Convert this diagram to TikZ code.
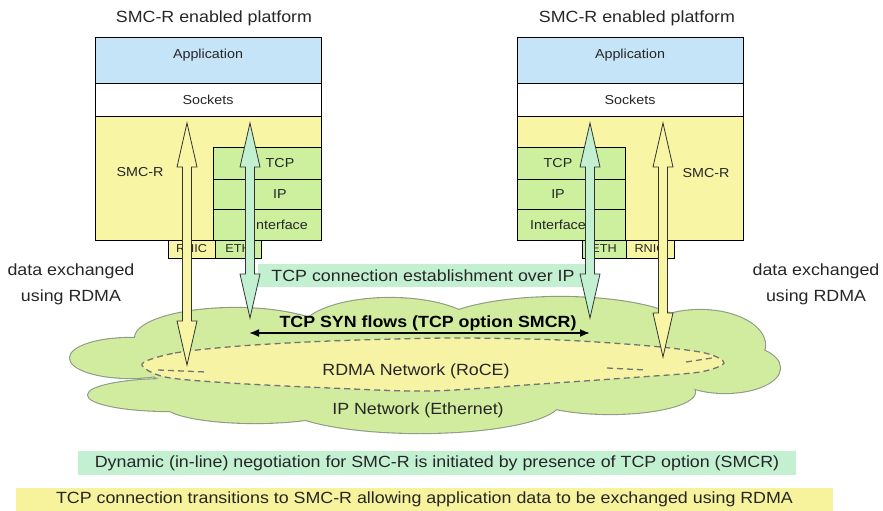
\documentclass[tikz,border=0pt]{standalone}
\usepackage{fontspec}
\setmainfont{Liberation Sans}[FakeStretch=1.1]
\usetikzlibrary{arrows.meta,calc}
\definecolor{appblue}{HTML}{C6E4F8}
\definecolor{smcyellow}{HTML}{F8F5A4}
\definecolor{tcpgreen}{HTML}{CCF09E}
\definecolor{mint}{HTML}{C4F0D2}
\definecolor{cloudgreen}{HTML}{D1EC9E}
\definecolor{cloudedge}{HTML}{8E9C86}
\definecolor{rdmayellow}{HTML}{F6F3A4}
\definecolor{noteyellow}{HTML}{F7F29C}
\definecolor{textgray}{HTML}{262626}
\newcommand{\fatarrow}[3]{%
  \draw[fatline,fill=#1] let \p1=(#2), \p2=(#3) in
    (\p1) -- (\x1+10pt,\y1-44pt) -- (\x1+4.5pt,\y1-44pt) -- (\x1+4.5pt,\y2+44pt)
    -- (\x1+10pt,\y2+44pt) -- (\p2) -- (\x1-10pt,\y2+44pt) -- (\x1-4.5pt,\y2+44pt)
    -- (\x1-4.5pt,\y1-44pt) -- (\x1-10pt,\y1-44pt) -- cycle;}

\begin{document}
\begin{tikzpicture}[x=1pt,y=-1pt,
  cell/.style={draw=black,line width=1pt,inner sep=0pt,outer sep=0pt,anchor=north west},
  txt/.style={font=\fontsize{13}{15}\selectfont,text=textgray,inner sep=0pt},
  big/.style={font=\fontsize{16.2}{26}\selectfont,text=textgray,inner sep=0pt},
  small/.style={font=\fontsize{11.5}{13}\selectfont,text=textgray,inner sep=0pt},
  fatline/.style={draw=black!80,line width=0.8pt},
  synline/.style={line width=1.8pt,{Latex[length=10pt,width=8pt]}-{Latex[length=10pt,width=8pt]}},
  rdmaedge/.style={draw=black!55,line width=1.3pt,dash pattern=on 6pt off 4pt}]
\useasboundingbox (0,0) rectangle (883,511);

\foreach \cx/\cy/\rx/\ry in {130/358/60/20,170/395/82/16,235/338/100/30,390/332/90/34,560/332/130/35,
    700/345/65/35,725/368/55/25,610/392/85/22,420/402/140/31,255/405/90/18,425/365/280/45}
  \draw[cloudedge,line width=2.2pt] (\cx,\cy) ellipse [x radius=\rx,y radius=\ry];
\foreach \cx/\cy/\rx/\ry in {130/358/60/20,170/395/82/16,235/338/100/30,390/332/90/34,560/332/130/35,
    700/345/65/35,725/368/55/25,610/392/85/22,420/402/140/31,255/405/90/18,425/365/280/45}
  \fill[cloudgreen] (\cx,\cy) ellipse [x radius=\rx,y radius=\ry];

\draw[rdmaedge,fill=rdmayellow] plot[smooth cycle] coordinates {(142,364) (175,353) (240,346) (330,341)
  (450,338) (560,340) (650,346) (705,353) (724,363) (700,372) (640,377) (540,384) (430,391)
  (330,388) (230,383) (165,377)};
\draw[rdmaedge] (158,370) -- (206,372);
\draw[rdmaedge] (607,368) -- (646,370);
\draw[rdmaedge] (686,362) -- (712,358);

\node[font=\bfseries\fontsize{16.2}{18}\selectfont,text=black,inner sep=0pt] (synflows) at (428,323) {TCP SYN flows (TCP option SMCR)};
\node[big] (rdmanet) at (416,371) {RDMA Network (RoCE)};
\node[big] (ipnet) at (418,410) {IP Network (Ethernet)};

\node[big] (titleL) at (214,18) {SMC-R enabled platform};
\node[cell,fill=appblue,minimum width=226,minimum height=45] (appL) at (95,38) {};
\node[cell,fill=white,minimum width=226,minimum height=33] (sockL) at (95,83) {};
\node[cell,fill=smcyellow,minimum width=226,minimum height=124] (smcL) at (95,116) {};
\node[cell,fill=tcpgreen,minimum width=108,minimum height=32] (tcpL) at (213,147) {};
\node[cell,fill=tcpgreen,minimum width=108,minimum height=30] (ipL) at (213,179) {};
\node[cell,fill=tcpgreen,minimum width=108,minimum height=31] (ifL) at (213,209) {};
\node[cell,fill=smcyellow,minimum width=47,minimum height=18] (rnicL) at (168,240) {};
\node[cell,fill=tcpgreen,minimum width=46,minimum height=18] (ethL) at (215,240) {};
\node[txt] at ([yshift=5.5]appL.center) {Application};
\node[txt] at (sockL.center) {Sockets};
\node[txt] at (140,172) {SMC-R};
\node[txt] at ([xshift=13]tcpL.center) {TCP};
\node[txt] at ([xshift=13]ipL.center) {IP};
\node[txt] at ([xshift=13]ifL.center) {Interface};
\node[small] at (rnicL.center) {RNIC};
\node[small] at (ethL.center) {ETH};

\node[big] (titleR) at (637,18) {SMC-R enabled platform};
\node[cell,fill=appblue,minimum width=226,minimum height=45] (appR) at (517,38) {};
\node[cell,fill=white,minimum width=226,minimum height=33] (sockR) at (517,83) {};
\node[cell,fill=smcyellow,minimum width=226,minimum height=124] (smcR) at (517,116) {};
\node[cell,fill=tcpgreen,minimum width=108,minimum height=32] (tcpR) at (517,147) {};
\node[cell,fill=tcpgreen,minimum width=108,minimum height=30] (ipR) at (517,179) {};
\node[cell,fill=tcpgreen,minimum width=108,minimum height=31] (ifR) at (517,209) {};
\node[cell,fill=tcpgreen,minimum width=44,minimum height=18] (ethR) at (582,240) {};
\node[cell,fill=smcyellow,minimum width=48,minimum height=18] (rnicR) at (626,240) {};
\node[txt] at ([yshift=5.5]appR.center) {Application};
\node[txt] at (sockR.center) {Sockets};
\node[txt] at (706,173) {SMC-R};
\node[txt] at ([xshift=-13]tcpR.center) {TCP};
\node[txt] at ([xshift=-13]ipR.center) {IP};
\node[txt] at ([xshift=-13]ifR.center) {Interface};
\node[small] at (ethR.center) {ETH};
\node[small] at (rnicR.center) {RNIC};

\node[big,align=center] (dataL) at (71,284) {data exchanged\\using RDMA};
\node[big,align=center] (dataR) at (816,284) {data exchanged\\using RDMA};
\node[big,fill=mint,minimum width=330,minimum height=23] (tcpconn) at (423,275.5) {TCP connection establishment over IP};

\coordinate (rdmaLtop) at (187,123);
\coordinate (rdmaLbot) at (187,365);
\coordinate (tcpLtop) at (250,123);
\coordinate (tcpLbot) at (250,318);
\coordinate (tcpRtop) at (590,123);
\coordinate (tcpRbot) at (590,318);
\coordinate (rdmaRtop) at (663,123);
\coordinate (rdmaRbot) at (663,357);
\fatarrow{smcyellow}{rdmaLtop}{rdmaLbot}
\fatarrow{mint}{tcpLtop}{tcpLbot}
\fatarrow{mint}{tcpRtop}{tcpRbot}
\fatarrow{smcyellow}{rdmaRtop}{rdmaRbot}

\coordinate (synL) at (249,333);
\coordinate (synR) at (590,333);
\draw[synline] (synL) -- (synR);

\node[big,fill=mint,minimum width=718,minimum height=24] (negnote) at (437,463) {Dynamic (in-line) negotiation for SMC-R is initiated by presence of TCP option (SMCR)};
\node[big,fill=noteyellow,minimum width=817,minimum height=23] (rdmanote) at (424.5,499.5) {TCP connection transitions to SMC-R allowing application data to be exchanged using RDMA};
\end{tikzpicture}
\end{document}
